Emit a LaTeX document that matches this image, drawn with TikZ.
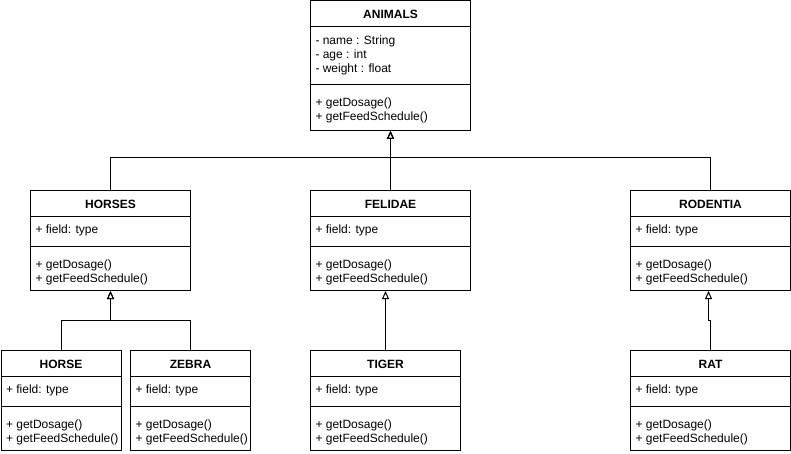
\documentclass[tikz,border=0pt]{standalone}
\usepackage{fontspec}
\setmainfont{Liberation Sans}
\usepackage{tikz}
\usetikzlibrary{arrows.meta, positioning, calc}

\begin{document}
\begin{tikzpicture}[x=1pt,y=-1pt,line width=1pt,
    lop/.style n args={2}{draw, fill=white, inner sep=0pt, anchor=north west, minimum width=#1pt, minimum height=#2pt},
    tieude/.style={inner sep=0pt, font=\fontsize{12}{14}\selectfont\bfseries},
    chu/.style={inner sep=0pt, anchor=west, align=left, font=\fontsize{12}{14}\selectfont},
    kethua/.style={-{Triangle[open,length=8pt,width=7pt]}}]

            \useasboundingbox (0,0) rectangle (791,454);

            % Vẽ lớp ANIMALS
            \node[lop={160}{129.5}] (dongVat) at (310,0.5) {};
            \node[tieude] (dongVat-ten) at ([yshift=-13.5pt]dongVat.north) {ANIMALS};
            \draw ([yshift=-26pt]dongVat.north west) -- ([yshift=-26pt]dongVat.north east);
            \draw ([yshift=-84.5pt]dongVat.north west) -- ([yshift=-84.5pt]dongVat.north east);
            \node[chu] (dongVat-truong) at ([xshift=5pt,yshift=-54.5pt]dongVat.north west) {- name : String\\- age : int\\- weight : float};
            \node[chu] (dongVat-ham) at ([xshift=5pt,yshift=-109.5pt]dongVat.north west) {+ getDosage()\\+ getFeedSchedule()};

            % Vẽ các lớp con
            \foreach \ten/\x/\y/\rong/\tde in {hoNgua/30/190/160/HORSES, hoMeo/310/190/160/FELIDAE, gamNham/630/190/160/RODENTIA, ngua/0.5/350/120/HORSE, nguaVan/130/350/120/ZEBRA, cop/310/350/150/TIGER, chuot/630/350/160/RAT}
            {
            \node[lop={\rong}{100}] (\ten) at (\x,\y) {};
            \node[tieude] (\ten-ten) at ([yshift=-14pt]\ten.north) {\tde};
            \draw ([yshift=-26pt]\ten.north west) -- ([yshift=-26pt]\ten.north east);
            \draw ([yshift=-56pt]\ten.north west) -- ([yshift=-56pt]\ten.north east);
            \node[chu] (\ten-truong) at ([xshift=5pt,yshift=-40.5pt]\ten.north west) {+ field: type};
            \node[chu] (\ten-ham) at ([xshift=5pt,yshift=-82pt]\ten.north west) {+ getDosage()\\+ getFeedSchedule()};
            }

            % Vẽ mũi tên kế thừa
            \coordinate (gam) at ([xshift=-2pt]gamNham.south);
            \draw[kethua] (hoNgua.north) -- ++(0,-32) -| (dongVat.south);
            \draw[kethua] (hoMeo.north) -- (dongVat.south);
            \draw[kethua] (gamNham.north) -- ++(0,-32) -| (dongVat.south);
            \draw[kethua] (ngua.north) -- ++(0,-30) -| (hoNgua.south);
            \draw[kethua] (nguaVan.north) -- ++(0,-30) -| (hoNgua.south);
            \draw[kethua] (cop.north) -- (cop.north |- hoMeo.south);
            \draw[kethua] (chuot.north) -- ++(0,-30) -| (gam); % lệch nhẹ

            \end{tikzpicture}
\end{document}
